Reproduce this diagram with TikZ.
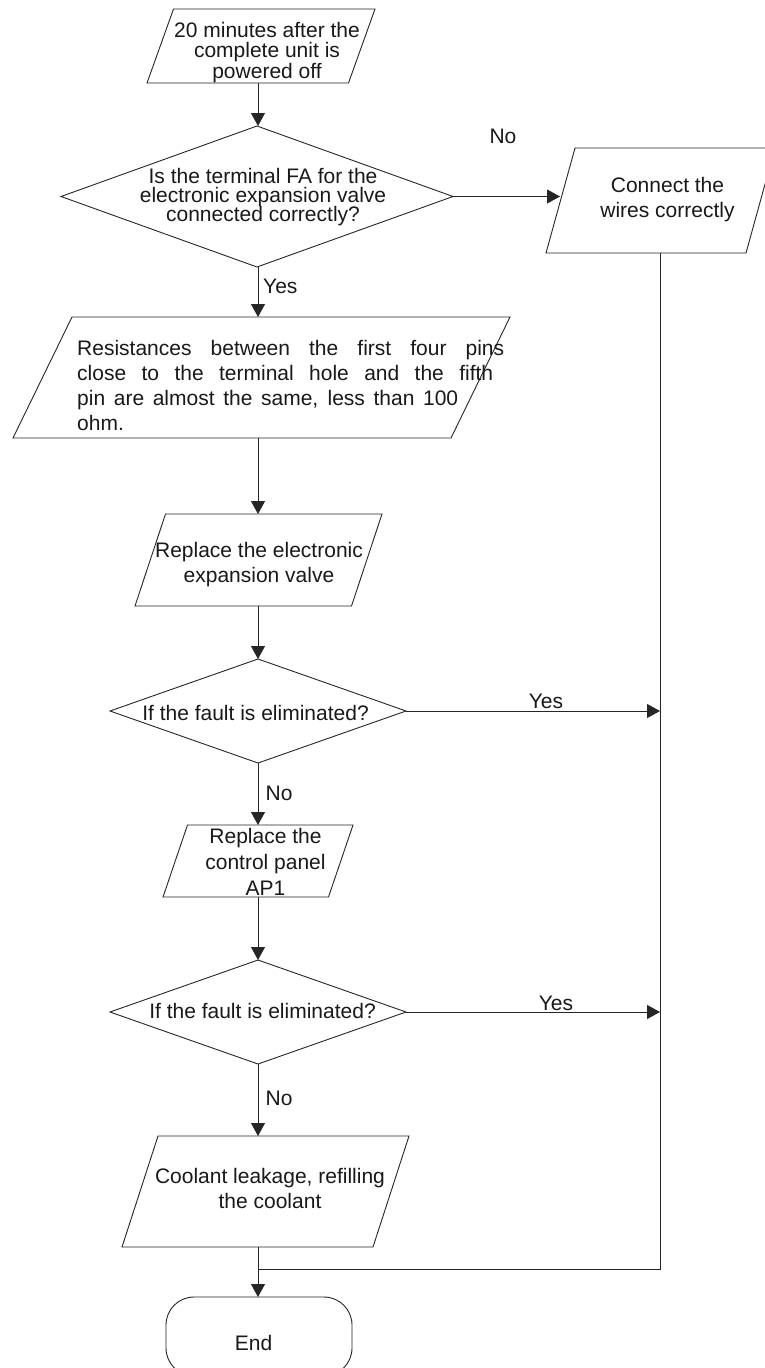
\documentclass[tikz,border=0pt]{standalone}
\usepackage{fontspec}
\setmainfont{Liberation Sans}
\usetikzlibrary{arrows.meta,shapes.geometric}
\newcommand\ctrlines[2]{\vtop{\baselineskip=#1\lineskiplimit=-100pt\lineskip=0pt\halign{\hfil##\hfil\cr#2\crcr}}}
\newcommand\leftlines[2]{\vtop{\baselineskip=#1\lineskiplimit=-100pt\lineskip=0pt\halign{##\hfil\cr#2\crcr}}}
\newcommand\drawpara[2]{\draw[shapeline] ([xshift=#2]#1.north west) -- (#1.north east) -- ([xshift=-#2]#1.south east) -- (#1.south west) -- cycle;}
\begin{document}
\begin{tikzpicture}[x=1pt,y=-1pt,
  shapeline/.style={draw=black!85, line width=0.9pt},
  boxframe/.style={draw=none, inner sep=0pt, outer sep=0pt, rectangle},
  decision/.style={diamond, draw=black!85, line width=0.9pt, inner sep=0pt, outer sep=0pt},
  txt/.style={inner sep=0pt, font=\fontsize{21}{25}\selectfont, text=black!90},
  lbl/.style={inner sep=0pt, font=\fontsize{21}{25}\selectfont, text=black!90},
  arr/.style={draw=black!85, line width=0.9pt, -{Triangle[width=14pt,length=13pt]}},
  conn/.style={draw=black!85, line width=0.9pt}]
\useasboundingbox (0,0) rectangle (764,1368);
\fill[white] (0,0) rectangle (764,1368);
\coordinate (ax) at (258,0);
\coordinate (rail) at (660,0);
\coordinate (fixin) at (560,0);
\coordinate (join) at (258,1269);

% start
\node[boxframe, minimum width=228pt, minimum height=74pt] (start) at (261,46) {};
\drawpara{start}{26.5pt}
\node[txt, anchor=base] (tstart) at (267,37) {\ctrlines{20.5pt}{20 minutes after the\cr complete unit is\cr powered off}};

% question 1
\node[decision, minimum width=392pt, minimum height=141pt] (q1) at (257,196.5) {};
\node[txt, anchor=base] (tq1) at (263,183.3) {\ctrlines{19.3pt}{Is the terminal FA for the\cr electronic expansion valve\cr connected correctly?}};

% fix wires
\node[boxframe, minimum width=229pt, minimum height=105pt] (fix) at (660.5,200.5) {};
\drawpara{fix}{29pt}
\node[txt, anchor=base] (tfix) at (667.5,192) {\ctrlines{25pt}{Connect the\cr wires correctly}};

% resistances
\node[boxframe, minimum width=497pt, minimum height=121pt] (res) at (261.5,377.5) {};
\drawpara{res}{59pt}
\node[txt, anchor=base west] (tres) at (77,355) {\leftlines{25pt}{\makebox[427pt][s]{Resistances between the first four pins}\cr \makebox[416pt][s]{close to the terminal hole and the fifth}\cr \makebox[381pt][s]{pin are almost the same, less than 100}\cr ohm.}};

% replace EEV
\node[boxframe, minimum width=247pt, minimum height=92pt] (eev) at (258.5,560) {};
\drawpara{eev}{30.5pt}
\node[txt, anchor=base] (teev) at (259,557) {\ctrlines{25pt}{Replace the electronic\cr expansion valve}};

% question 2
\node[decision, minimum width=296pt, minimum height=104pt] (q2) at (258,711) {};
\node[txt, anchor=base] (tq2) at (255.5,720) {If the fault is eliminated?};

% replace AP1
\node[boxframe, minimum width=190pt, minimum height=72pt] (ap) at (258,861) {};
\drawpara{ap}{24.5pt}
\node[txt, anchor=base] (tap) at (265.5,843) {\ctrlines{26pt}{Replace the\cr control panel\cr AP1}};

% question 3
\node[decision, minimum width=296pt, minimum height=104pt] (q3) at (258,1012) {};
\node[txt, anchor=base] (tq3) at (262.5,1018.3) {If the fault is eliminated?};

% coolant
\node[boxframe, minimum width=287pt, minimum height=111pt] (cool) at (265.5,1191.5) {};
\drawpara{cool}{36pt}
\node[txt, anchor=base] (tcool) at (270,1183) {\ctrlines{25pt}{Coolant leakage, refilling\cr the coolant}};

% end
\node[draw=black!85, line width=0.9pt, rounded corners=28pt, minimum width=186pt, minimum height=79pt, inner sep=0pt, outer sep=0pt] (end) at (259,1336.5) {};
\node[txt, anchor=base] (tend) at (253.5,1350) {End};

% connectors
\draw[arr] (start.south -| ax) -- (q1.north -| ax);
\draw[arr] (q1.south -| ax) -- (res.north -| ax);
\draw[arr] (res.south -| ax) -- (eev.north -| ax);
\draw[arr] (eev.south -| ax) -- (q2.north);
\draw[arr] (q2.south) -- (ap.north);
\draw[arr] (ap.south) -- (q3.north);
\draw[arr] (q3.south) -- (cool.north -| ax);
\draw[arr] (cool.south -| ax) -- (end.north -| ax);
\draw[arr] (q1.east) -- (q1.east -| fixin);
\draw[arr] (q2.east) -- (q2.east -| rail);
\draw[arr] (q3.east) -- (q3.east -| rail);
\draw[conn] (fix.south -| rail) -- (rail |- join) -- (join);

% labels
\node[lbl, anchor=base] (lno1) at (503,143.3) {No};
\node[lbl, anchor=base west] (lyes1) at (263,293) {Yes};
\node[lbl, anchor=base west] (lno2) at (265.5,800) {No};
\node[lbl, anchor=base] (lyes2) at (546,708.3) {Yes};
\node[lbl, anchor=base west] (lno3) at (265.5,1105.7) {No};
\node[lbl, anchor=base] (lyes3) at (556,1010.7) {Yes};
\end{tikzpicture}
\end{document}
